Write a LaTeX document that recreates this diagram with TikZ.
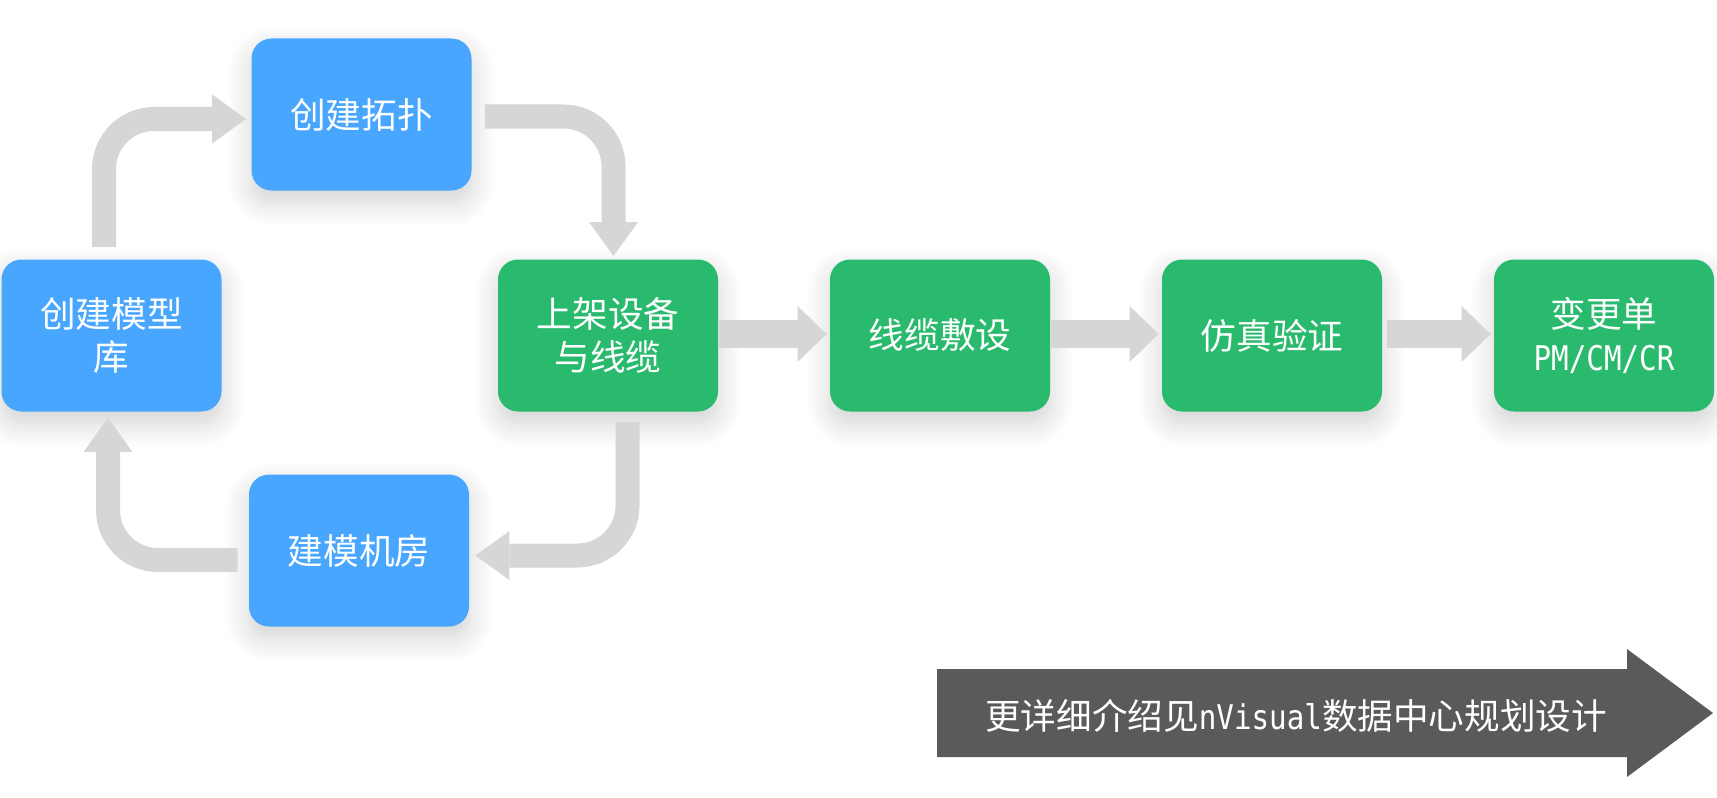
\documentclass[tikz,border=0pt]{standalone}
\usepackage{fontspec}
\setmainfont{Noto Sans CJK SC}
\newfontfamily\latinmono[FakeStretch=0.86]{DejaVu Sans Mono}
\newcommand\monotext[1]{{\latinmono\fontsize{17}{21.5}\selectfont #1}}
\usetikzlibrary{arrows.meta,calc,shadows.blur}
\definecolor{boxblue}{HTML}{48A6FF}
\definecolor{boxgreen}{HTML}{2ABA6E}
\definecolor{flowgray}{HTML}{D6D6D6}
\definecolor{notegray}{HTML}{5A5A5A}
\tikzset{
  box/.style={rectangle, rounded corners=10pt, minimum width=110pt, minimum height=76pt,
    text=white, align=center, font=\fontsize{17.8}{21.5}\selectfont, inner sep=0pt,
    blur shadow={shadow xshift=0pt, shadow yshift=-6pt, shadow blur radius=12pt, shadow blur steps=12, shadow opacity=18}},
  bluebox/.style={box, fill=boxblue},
  greenbox/.style={box, fill=boxgreen},
  bendflow/.style={draw=flowgray, line width=12pt, rounded corners=25pt,
    -{Triangle[width=24.5pt,length=17pt,line width=0pt]}},
  straightflow/.style={draw=flowgray, line width=14pt,
    -{Triangle[width=28pt,length=14.5pt,line width=0pt]}},
  notetext/.style={text=white, font=\fontsize{17.8}{21.5}\selectfont, inner sep=0pt}
}
\begin{document}
\begin{tikzpicture}[x=0.5pt,y=-0.5pt]
\useasboundingbox (0,0) rectangle (1717,797);
% boxes
\node[bluebox] (m) at (111.5,335.5) {创建模型\\库};
\node[bluebox] (t) at (361.5,114.5) {创建拓扑};
\node[greenbox] (s) at (608,335.5) {上架设备\\与线缆};
\node[greenbox] (c) at (940,335.5) {线缆敷设};
\node[greenbox] (f) at (1272,335.5) {仿真验证};
\node[greenbox] (b) at (1604,335.5) {变更单\\\monotext{PM/CM/CR}};
\node[bluebox] (r) at (359,550.5) {建模机房};
% curved connectors
\draw[bendflow] ($(m.north)+(-7.5,-12)$) |- ($(t.west)+(-5,4.5)$);
\draw[bendflow] ($(t.east)+(13,2)$) -| ($(s.north)+(5.5,-3)$);
\draw[bendflow] ($(s.south)+(19.5,10)$) |- ($(r.east)+(6,5)$);
\draw[bendflow] ($(r.west)+(-11,9.5)$) -| ($(m.south)+(-3.5,6)$);
% straight connectors
\draw[straightflow] ($(s.east)+(1,-1.5)$) -- ($(c.west)+(-3,-1.5)$);
\draw[straightflow] ($(c.east)+(1,-1.5)$) -- ($(f.west)+(-3,-1.5)$);
\draw[straightflow] ($(f.east)+(5,-1.5)$) -- ($(b.west)+(-3,-1.5)$);
% bottom note arrow
\fill[notegray] (937,669) -- (1627,669) -- (1627,649) -- (1713,713) -- (1627,777) -- (1627,757) -- (937,757) -- cycle;
\node[notetext] (note) at (1296,716) {更详细介绍见\monotext{nVisual}数据中心规划设计};
\end{tikzpicture}
\end{document}
